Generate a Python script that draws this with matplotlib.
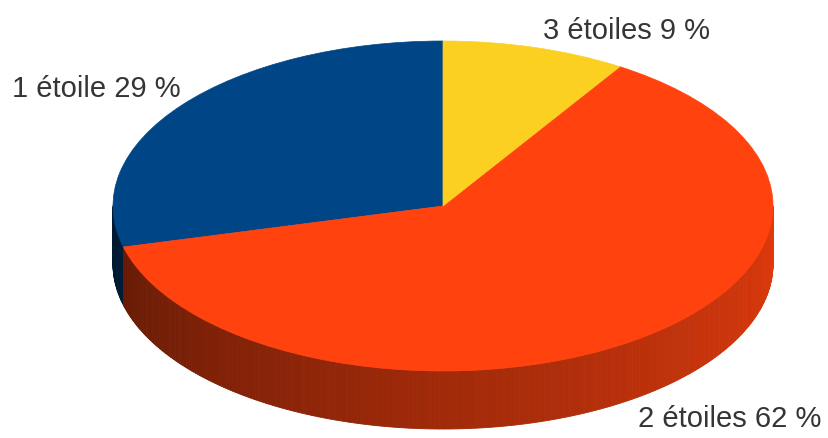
import numpy as np
import matplotlib
matplotlib.use("Agg")
import matplotlib.pyplot as plt
from matplotlib.patches import Wedge
from matplotlib.collections import PolyCollection
from matplotlib.transforms import Affine2D
from matplotlib.colors import to_rgb

categories = ["1 étoile", "2 étoiles", "3 étoiles"]
shares = [29, 62, 9]
colors = ["#004586", "#ff420e", "#fbd020"]

# label anchor (left, baseline) in pixel coords
label_pos = [(12, 97), (638, 427), (543, 39)]

W, H = 829, 439
cx, cy = 443, 207      # centre of the top face
rx, ry = 330, 165      # radii of the top face
depth = 58             # height of the side wall

fig = plt.figure(figsize=(W / 100, H / 100), dpi=100)
ax = fig.add_axes([0, 0, 1, 1])
ax.set_xlim(0, W)
ax.set_ylim(H, 0)
ax.axis("off")

# unit circle -> squashed ellipse in pixel coords
top_tr = Affine2D().scale(rx, -ry).translate(cx, cy) + ax.transData


def side_factor(t):
    # darker on the left of the front wall, brighter on the right
    return np.interp(t, [180, 270, 360], [0.36, 0.63, 0.88])


# slices counter-clockwise from 12 o'clock
angles = np.concatenate([[0], np.cumsum(shares)]) / 100 * 360 + 90

# side wall
polys, fcs = [], []
for i, col in enumerate(colors):
    a0, a1 = angles[i], angles[i + 1]
    for lo, hi in [(180, 360), (540, 720)]:
        s0, s1 = max(a0, lo), min(a1, hi)
        if s1 <= s0:
            continue
        ts = np.linspace(s0, s1, max(2, int((s1 - s0) * 2) + 1))
        base = np.array(to_rgb(col))
        for t0, t1 in zip(ts[:-1], ts[1:]):
            r0, r1 = np.radians(t0), np.radians(t1)
            x0, x1 = cx + rx * np.cos(r0), cx + rx * np.cos(r1)
            y0, y1 = cy - ry * np.sin(r0), cy - ry * np.sin(r1)
            polys.append([(x0, y0), (x1, y1), (x1, y1 + depth), (x0, y0 + depth)])
            k = side_factor(((t0 + t1) / 2) % 360 if (t0 + t1) / 2 % 360 != 0 else 360)
            fcs.append(np.clip(base * k, 0, 1))

ax.add_collection(PolyCollection(polys, facecolors=fcs, edgecolors=fcs,
                                 linewidths=0.6, antialiased=True))

# top face
for i, col in enumerate(colors):
    w = Wedge((0, 0), 1, angles[i], angles[i + 1], facecolor=col,
              edgecolor=col, linewidth=0.5, transform=top_tr)
    ax.add_patch(w)

for name, pct, (x, y) in zip(categories, shares, label_pos):
    ax.text(x, y, f"{name} {pct} %", ha="left", va="baseline",
            fontsize=21, color="#353535", family=["Liberation Sans", "DejaVu Sans"])

fig.savefig("out.png", dpi=100)
